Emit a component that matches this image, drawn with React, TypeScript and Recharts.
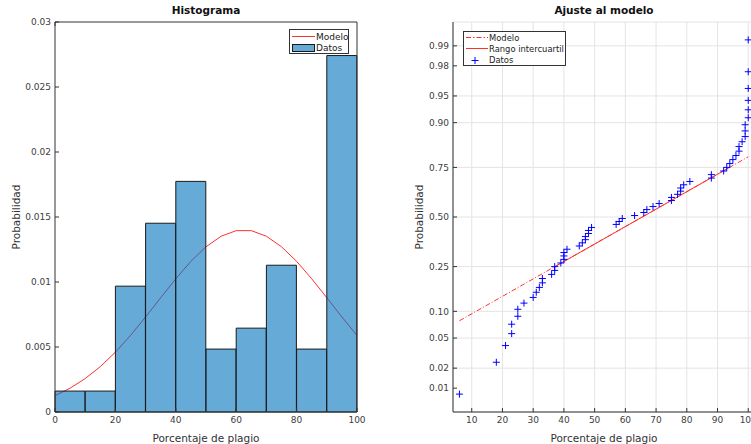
import { Bar, CartesianGrid, ComposedChart, Legend, Line, Scatter, ScatterChart, XAxis, YAxis } from "recharts";

// Histograma (densidad por intervalo de 10 puntos)
const binLabels = ["0-10", "10-20", "20-30", "30-40", "40-50", "50-60", "60-70", "70-80", "80-90", "90-100"];
const binDensity = [0.00161, 0.00161, 0.00968, 0.01452, 0.01774, 0.00484, 0.00645, 0.01129, 0.00484, 0.02742];

// Curva del modelo
const curveX = [0, 5, 10, 15, 20, 25, 30, 35, 40, 45, 50, 55, 60, 65, 70, 75, 80, 85, 90, 95, 100];
const curveY = [
  0.00126, 0.00183, 0.00257, 0.00349, 0.0046, 0.00589, 0.00731, 0.00879, 0.01025, 0.01159, 0.01271,
  0.01352, 0.01395, 0.01395, 0.01352, 0.01271, 0.01159, 0.01025, 0.00879, 0.00731, 0.00589,
];
const histTicksX = [0, 20, 40, 60, 80, 100];
const histTicksY = [0, 0.005, 0.01, 0.015, 0.02, 0.025, 0.03];

// Gráfico de probabilidad normal
const plagio = [
  6, 18, 21, 23, 23, 25, 25, 27, 30, 31, 32, 33, 33, 36, 37, 37, 39, 40, 40, 40, 41, 45, 46, 47, 47, 48, 48, 49,
  57, 58, 59, 63, 66, 67, 69, 71, 75, 75, 77, 78, 78, 79, 81, 88, 88, 92, 93, 94, 95, 96, 97, 97, 98, 99, 99, 99,
  100, 100, 100, 100, 100, 100,
];
const plotZ = [
  -2.407, -1.974, -1.747, -1.585, -1.457, -1.349, -1.254, -1.17, -1.093, -1.023, -0.957, -0.895, -0.836, -0.78,
  -0.726, -0.674, -0.625, -0.576, -0.529, -0.483, -0.438, -0.394, -0.351, -0.308, -0.266, -0.224, -0.183, -0.142,
  -0.101, -0.061, -0.02, 0.02, 0.061, 0.101, 0.142, 0.183, 0.224, 0.266, 0.308, 0.351, 0.394, 0.438, 0.483, 0.529,
  0.576, 0.625, 0.674, 0.726, 0.78, 0.836, 0.895, 0.957, 1.023, 1.093, 1.17, 1.254, 1.349, 1.457, 1.585, 1.747,
  1.974, 2.407,
];
const probLabels = ["0.01", "0.02", "0.05", "0.10", "0.25", "0.50", "0.75", "0.90", "0.95", "0.98", "0.99"];
const probZ = [-2.326, -2.054, -1.645, -1.282, -0.674, 0, 0.674, 1.282, 1.645, 2.054, 2.326];
const normTicksX = [10, 20, 30, 40, 50, 60, 70, 80, 90, 100];
const modeloX = [6, 100];
const modeloZ = [-1.41, 0.818];
const iqrX = [37.1, 93.9];
const iqrZ = [-0.674, 0.674];

const binData = binLabels.map((bin, i) => ({ bin, dens: binDensity[i] }));
const curveData = curveX.map((x, i) => ({ x, y: curveY[i] }));
const datosData = plagio.map((x, i) => ({ x, z: plotZ[i] }));
const modeloData = modeloX.map((x, i) => ({ x, z: modeloZ[i] }));
const iqrData = iqrX.map((x, i) => ({ x, z: iqrZ[i] }));

const FONT = "DejaVu Sans";
const tickStyle = { fontSize: 9, fill: "#404040", fontFamily: FONT };
const labelStyle = { fontSize: 10.5, fill: "#333", fontFamily: FONT, textAnchor: "middle" as const };
const AXIS = "#333";
const RED = "#ff3030";

function HistLegend() {
  return (
    <svg width={60} height={25} style={{ display: "block" }}>
      <rect x={0.5} y={0.5} width={59} height={24} fill="#fff" stroke="#333" />
      <line x1={3} x2={26} y1={7.5} y2={7.5} stroke={RED} />
      <rect x={3.5} y={15.5} width={22} height={7} fill="#0072BD" fillOpacity={0.6} stroke="#1a1a1a" />
      <text x={27} y={11} fontSize={9} fill="#222" fontFamily={FONT}>Modelo</text>
      <text x={27} y={22} fontSize={9} fill="#222" fontFamily={FONT}>Datos</text>
    </svg>
  );
}

function NormLegend() {
  return (
    <svg width={103} height={35} style={{ display: "block" }}>
      <rect x={0.5} y={0.5} width={102} height={34} fill="#fff" stroke="#333" />
      <line x1={3} x2={25} y1={6.5} y2={6.5} stroke="#ff3030" strokeWidth={1} strokeDasharray="5 2 1.5 2" />
      <line x1={3} x2={25} y1={17.5} y2={17.5} stroke="#ff3030" />
      <path d="M8.5,29.5h7M12,26v7" stroke="#0000ff" />
      <text x={26} y={9.5} fontSize={8.4} fill="#222" fontFamily={FONT}>Modelo</text>
      <text x={26} y={20.5} fontSize={8.4} fill="#222" fontFamily={FONT}>Rango intercuartil</text>
      <text x={26} y={32} fontSize={8.4} fill="#222" fontFamily={FONT}>Datos</text>
    </svg>
  );
}

function Plus(props: any) {
  const { cx, cy } = props;
  return <path d={`M${cx - 3.5},${cy}h7M${cx},${cy - 3.5}v7`} stroke="#0000ff" strokeWidth={1} fill="none" />;
}

function NoPoint() {
  return <g />;
}

const titleStyle = {
  position: "absolute" as const,
  top: 4,
  width: 302,
  textAlign: "center" as const,
  fontSize: 10.5,
  fontWeight: "bold" as const,
  fontFamily: FONT,
  color: "#111",
};

export default function App() {
  return (
    <div style={{ position: "fixed", left: 0, top: 0, width: 751, height: 444, overflow: "hidden", background: "#fff" }}>
      <div style={{ position: "absolute", left: 0, top: 0 }}>
        <ComposedChart width={370} height={444} data={binData} margin={{ top: 21, right: 12, bottom: 0, left: 10 }} barCategoryGap={0} barGap={0}>
          <XAxis xAxisId="bins" dataKey="bin" type="category" hide height={0} />
          <XAxis
            xAxisId="pct"
            dataKey="x"
            type="number"
            domain={[0, 100]}
            ticks={histTicksX}
            allowDataOverflow
            height={32}
            tickSize={-4}
            tickMargin={9}
            tick={tickStyle}
            stroke={AXIS}
            label={{ value: "Porcentaje de plagio", position: "insideBottom", offset: 2, style: labelStyle }}
          />
          <XAxis xAxisId="top" orientation="top" type="number" domain={[0, 100]} ticks={histTicksX} height={1} tickSize={-4} tickFormatter={() => ""} stroke={AXIS} />
          <YAxis
            type="number"
            domain={[0, 0.03]}
            ticks={histTicksY}
            width={45}
            tickSize={-4}
            tickMargin={8}
            tick={tickStyle}
            stroke={AXIS}
            label={{ value: "Probabilidad", angle: -90, position: "insideLeft", offset: 6, style: labelStyle }}
          />
          <YAxis yAxisId="r" orientation="right" type="number" domain={[0, 0.03]} ticks={histTicksY} width={1} tickSize={-4} tickFormatter={() => ""} stroke={AXIS} />
          <Line xAxisId="pct" data={curveData} dataKey="y" type="linear" stroke={RED} strokeWidth={1} dot={false} isAnimationActive={false} zIndex={250} />
          <Bar xAxisId="bins" dataKey="dens" fill="#0072BD" fillOpacity={0.6} stroke="#1a1a1a" strokeWidth={1} isAnimationActive={false} zIndex={300} />
          <Legend layout="vertical" verticalAlign="middle" align="center" content={HistLegend} wrapperStyle={{ left: 289, top: 29, width: 60 }} />
        </ComposedChart>
        <div style={{ ...titleStyle, left: 55 }}>Histograma</div>
      </div>

      <div style={{ position: "absolute", left: 370, top: 0 }}>
        <ScatterChart width={400} height={444} margin={{ top: 22, right: 15, bottom: 0, left: 43 }}>
          <CartesianGrid stroke="#e4e4e4" />
          <XAxis
            dataKey="x"
            type="number"
            domain={[3.9, 102.2]}
            ticks={normTicksX}
            allowDataOverflow
            height={32}
            tickSize={-4}
            tickMargin={9}
            tick={tickStyle}
            stroke={AXIS}
            label={{ value: "Porcentaje de plagio", position: "insideBottom", offset: 2, style: labelStyle }}
          />
          <YAxis
            dataKey="z"
            type="number"
            domain={[-2.65, 2.65]}
            ticks={probZ}
            allowDataOverflow
            tickFormatter={(v: number) => probLabels[probZ.indexOf(v)]}
            width={40}
            tickSize={-4}
            tickMargin={8}
            tick={tickStyle}
            stroke={AXIS}
            label={{ value: "Probabilidad", angle: -90, position: "insideLeft", offset: 6, style: labelStyle }}
          />
          <Scatter data={modeloData} line={{ stroke: RED, strokeWidth: 1, strokeDasharray: "5 2 1 2" }} shape={NoPoint} isAnimationActive={false} />
          <Scatter data={iqrData} line={{ stroke: RED, strokeWidth: 1 }} shape={NoPoint} isAnimationActive={false} />
          <Scatter data={datosData} shape={Plus} isAnimationActive={false} />
          <Legend layout="vertical" verticalAlign="middle" align="center" content={NormLegend} wrapperStyle={{ left: 93, top: 31, width: 103 }} />
        </ScatterChart>
        <div style={{ ...titleStyle, left: 83 }}>Ajuste al modelo</div>
      </div>
    </div>
  );
}
